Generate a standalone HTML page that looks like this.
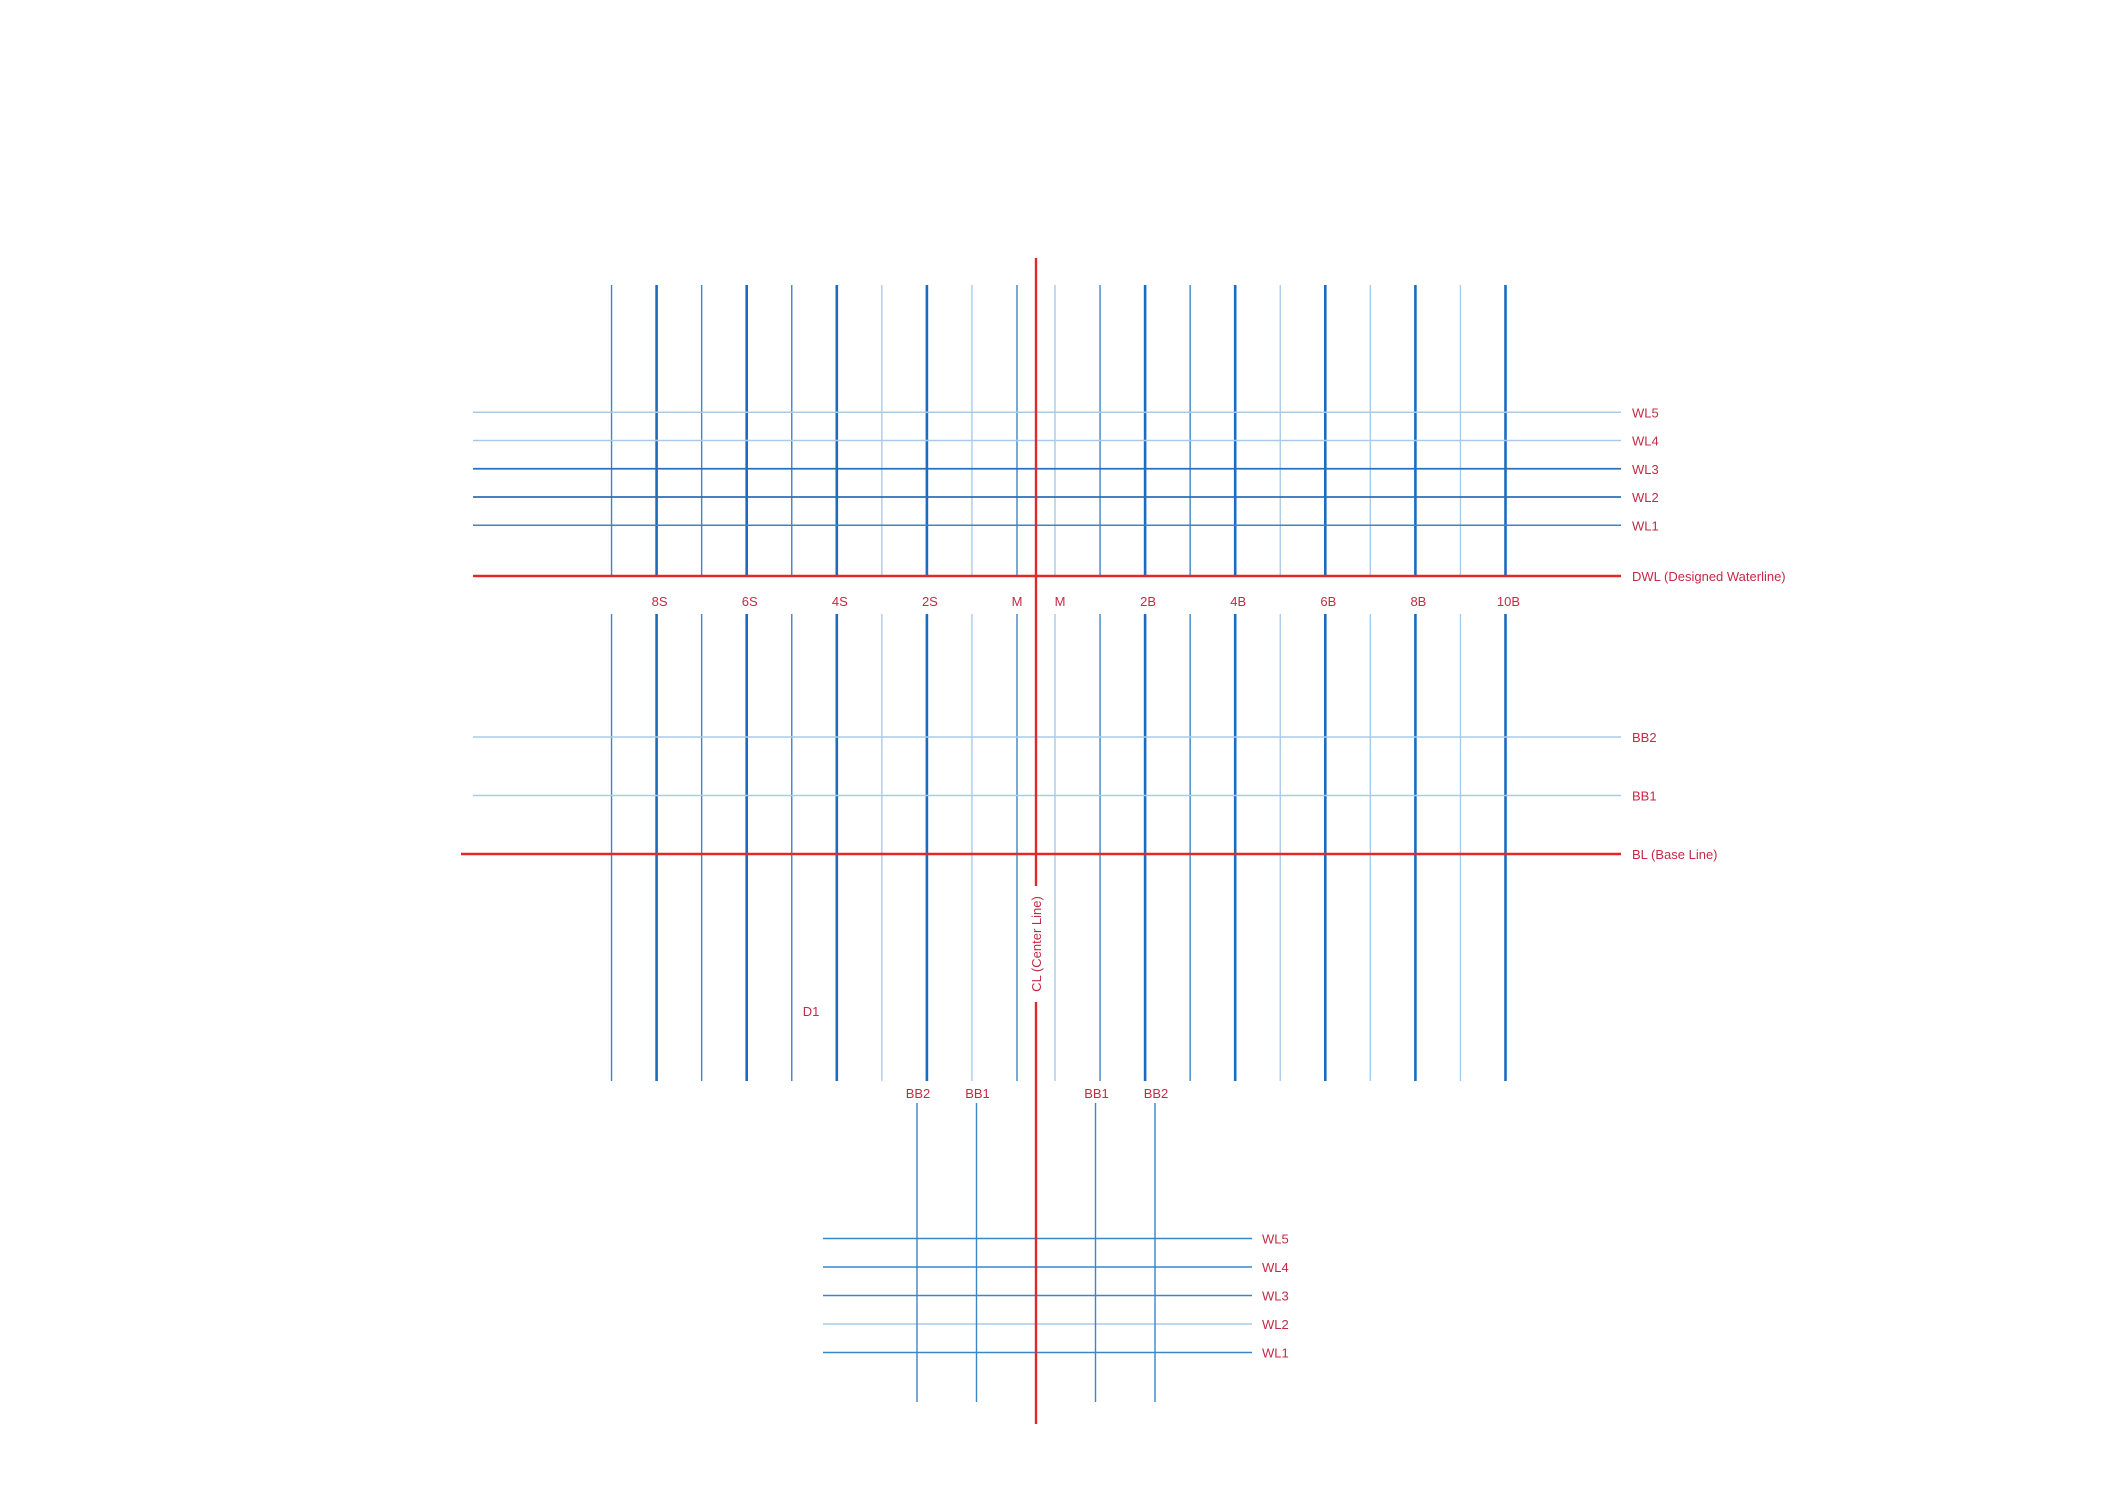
<!DOCTYPE html>
<html><head><meta charset="utf-8"><style>
html,body{margin:0;padding:0;background:#fff;}
svg{display:block;}
text{font-family:"Liberation Sans",sans-serif;fill:#c42a45;font-size:13px;}
</style></head><body>
<svg id="chart" width="2109" height="1490" viewBox="0 0 2109 1490" xmlns="http://www.w3.org/2000/svg">
<g id="g-vert"></g>
<g id="g-horiz"></g>
<g id="g-lower"></g>
<g id="g-red"></g>
<g id="g-text"></g>
</svg>
<script>
// station offsets from centre line (in station units); side -1 = stern(S), +1 = bow(B)
const leftStations = [0,1,2,3,4,5,6,7,8,9];
const leftStyles = ['mid','light','thick','light','thick','mid','thick','mid','thick','mid'];
const leftLabels = ['M','','2S','','4S','','6S','','8S',''];
const rightStations = [0,1,2,3,4,5,6,7,8,9,10];
const rightStyles = ['light','mid','thick','mid','thick','light','thick','light','thick','light','thick'];
const rightLabels = ['M','','2B','','4B','','6B','','8B','','10B'];
const upperWL = ['WL5','WL4','WL3','WL2','WL1'];
const upperWLLevel = [5,4,3,2,1];
const upperWLStyles = ['light','light','dark','dark','mid'];
const buttocks = ['BB2','BB1'];
const buttockLevel = [2,1];
const lowerWL = ['WL5','WL4','WL3','WL2','WL1'];
const lowerWLLevel = [5,4,3,2,1];
const lowerWLStyles = ['mid','mid','mid','light','mid'];
const bodyButtocks = ['BB2','BB1','BB1','BB2'];
const bodyButtockPos = [-2,-1,1,2];

const NS='http://www.w3.org/2000/svg';
const CL=1036;
function sx(side,k){return CL+side*(19+k*45.05);}
function wlY(l){return 553.5-l*28.25;}
function bbY(l){return 854-l*58.5;}
function bodyX(b){return CL+b*59.5;}
function bodyY(l){return 1381-l*28.5;}
const col={thick:['#1a6cc0',2.6],mid:['#3a86c8',1.4],light:['#a9cbea',1.4],dark:['#2a70b8',1.8]};
function line(g,x1,y1,x2,y2,c,w,name){
  const l=document.createElementNS(NS,'line');
  l.setAttribute('x1',x1);l.setAttribute('y1',y1);l.setAttribute('x2',x2);l.setAttribute('y2',y2);
  l.setAttribute('stroke',c);l.setAttribute('stroke-width',w);
  
  
  g.appendChild(l);return l;
}
function text(x,y,s,name,anchor){
  const t=document.createElementNS(NS,'text');
  t.setAttribute('x',x);t.setAttribute('y',y);t.textContent=s;
  if(anchor)t.setAttribute('text-anchor',anchor);
  
  
  document.getElementById('g-text').appendChild(t);return t;
}
const gv=document.getElementById('g-vert');
function stations(arr,styles,labels,side){
  arr.forEach((k,i)=>{
    const x=sx(side,k);const st=col[styles[i]];
    line(gv,x,285,x,576,st[0],st[1],'station-line-upper');
    line(gv,x,614,x,1081,st[0],st[1],'station-line-lower');
    if(labels[i]){text(x+(labels[i]==='M'?(side>0?5:0):3),606,labels[i],'station-label','middle');}
  });
}
stations(leftStations,leftStyles,leftLabels,-1);
stations(rightStations,rightStyles,rightLabels,1);
const gh=document.getElementById('g-horiz');
upperWL.forEach((n,i)=>{
  const yy=wlY(upperWLLevel[i]);
  const st=upperWLStyles[i]==='dark'?col.dark:col[upperWLStyles[i]];
  line(gh,473,yy,1621,yy,st[0],st[1],'waterline-'+n.toLowerCase());
  text(1632,yy+5,n,'waterline-label');
});
buttocks.forEach((n,i)=>{
  const y=bbY(buttockLevel[i]);
  line(gh,473,y,1621,y,col.light[0],1.4,'buttock-line-'+n.toLowerCase());
  text(1632,y+5,n,'buttock-label');
});
const gl=document.getElementById('g-lower');
lowerWL.forEach((n,i)=>{
  const y=bodyY(lowerWLLevel[i]);const st=col[lowerWLStyles[i]];
  line(gl,823,y,1252,y,st[0],st[1],'body-waterline-'+n.toLowerCase());
  text(1262,y+5,n,'body-waterline-label');
});
bodyButtocks.forEach((n,i)=>{
  const x=bodyX(bodyButtockPos[i]);
  line(gl,x,1103,x,1402,col.mid[0],1.4,'body-buttock-line');
  text(x+1,1098,n,'body-buttock-label','middle');
});
const gr=document.getElementById('g-red');
line(gr,473,576,1621,576,'#e02a2a',2.6,'dwl-line');
line(gr,461,854,1621,854,'#e02a2a',2.6,'base-line');
line(gr,CL,258,CL,886,'#e02a2a',2.4,'center-line');
line(gr,CL,1002,CL,1424,'#e02a2a',2.4,'center-line-lower');
text(1632,581,'DWL (Designed Waterline)','dwl-label');
text(1632,859,'BL (Base Line)','bl-label');
const t=text(0,0,'CL (Center Line)','cl-label','middle');
t.setAttribute('transform','translate('+(CL+5)+',944) rotate(-90)');
text(811,1016,'D1','d1-label','middle');
</script>
</body></html>
